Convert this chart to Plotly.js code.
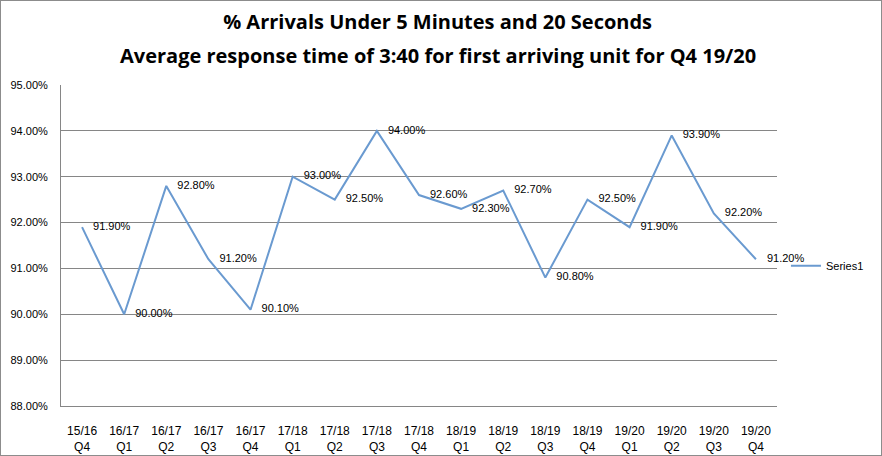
<!DOCTYPE html>
<html>
<head>
<meta charset="utf-8">
<script src="https://cdn.plot.ly/plotly-3.0.1.min.js"></script>
<style>
  body { margin: 0; background: #fff; }
  #chart { width: 882px; height: 456px; box-sizing: border-box; border: 1px solid #8c8c8c; }
</style>
</head>
<body>
<div id="chart"></div>
<script>
const periods = ['15/16', '16/17', '16/17', '16/17', '16/17', '17/18', '17/18', '17/18', '17/18',
  '18/19', '18/19', '18/19', '18/19', '19/20', '19/20', '19/20', '19/20'];
const quarters = ['Q4', 'Q1', 'Q2', 'Q3', 'Q4', 'Q1', 'Q2', 'Q3', 'Q4',
  'Q1', 'Q2', 'Q3', 'Q4', 'Q1', 'Q2', 'Q3', 'Q4'];
const arrivals = [91.9, 90.0, 92.8, 91.2, 90.1, 93.0, 92.5, 94.0, 92.6,
  92.3, 92.7, 90.8, 92.5, 91.9, 93.9, 92.2, 91.2];
const yTicks = [88, 89, 90, 91, 92, 93, 94, 95];

const titleLine1 = '% Arrivals Under 5 Minutes and 20 Seconds';
const titleLine2 = 'Average response time of 3:40 for first arriving unit for Q4 19/20';

const labels = periods.map((p, i) => p + '<br>' + quarters[i]);
const xs = labels.map((l, i) => i);

const plotData = [
  {
    name: 'Series1',
    x: xs,
    y: arrivals,
    mode: 'lines+markers+text',
    text: arrivals.map((v) => v.toFixed(2) + '%'),
    textposition: 'middle right',
    textfont: { family: 'Liberation Sans, Arial, sans-serif', size: 11, color: '#000' },
    marker: { size: 16, color: 'rgba(0,0,0,0)' },
    line: { color: '#6a9ad0', width: 2 },
    cliponaxis: false,
  },
];

const layout = {
  width: 880,
  height: 454,
  margin: { l: 60, r: 100, t: 84, b: 49 },
  paper_bgcolor: '#fff',
  plot_bgcolor: '#fff',
  font: { family: 'Liberation Sans, Arial, sans-serif', size: 10, color: '#000' },
  title: {
    text: '<b>' + titleLine1 + '</b>',
    font: { family: 'Open Sans, sans-serif', size: 20, color: '#000' },
    x: 0.526,
    xref: 'paper',
    xanchor: 'center',
    yref: 'container',
    y: 0.954,
    yanchor: 'middle',
  },
  annotations: [
    {
      text: '<b>' + titleLine2 + '</b>',
      font: { family: 'Open Sans, sans-serif', size: 20, color: '#000' },
      xref: 'paper',
      yref: 'paper',
      x: 0.526,
      y: 1.093,
      xanchor: 'center',
      yanchor: 'middle',
      showarrow: false,
    },
  ],
  showlegend: true,
  legend: {
    x: 1.0125,
    xanchor: 'left',
    y: 0.437,
    yanchor: 'middle',
    font: { size: 11 },
    bgcolor: 'rgba(0,0,0,0)',
  },
  xaxis: {
    range: [-0.5, 16.5],
    tickmode: 'array',
    tickvals: xs,
    ticktext: labels,
    showgrid: false,
    zeroline: false,
    showline: true,
    linecolor: '#868686',
    linewidth: 1,
    ticks: '',
    ticklabelstandoff: 14,
    tickfont: { size: 12 },
  },
  yaxis: {
    range: [88, 95],
    tickmode: 'array',
    tickvals: yTicks,
    ticktext: yTicks.map((v) => v.toFixed(2) + '%'),
    showgrid: true,
    gridcolor: '#868686',
    gridwidth: 1,
    zeroline: false,
    showline: true,
    linecolor: '#868686',
    ticks: '',
    ticklabelstandoff: 10,
    tickfont: { size: 11 },
  },
};

Plotly.newPlot('chart', plotData, layout, { displayModeBar: false, staticPlot: true });
</script>
</body>
</html>
